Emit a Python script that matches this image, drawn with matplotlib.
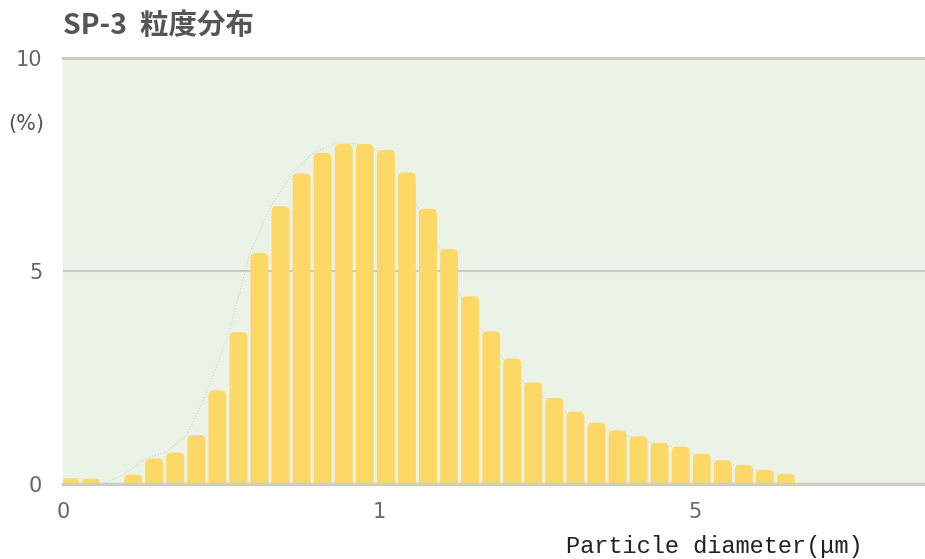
import numpy as np
import matplotlib
matplotlib.use("Agg")
import matplotlib.pyplot as plt
from matplotlib.patches import FancyBboxPatch

# percent per size bin
values = [0.13, 0.13, 0.0, 0.22, 0.60, 0.74, 1.15, 2.20, 3.57, 5.43, 6.53, 7.30,
          7.78, 7.99, 7.99, 7.85, 7.32, 6.47, 5.52, 4.41, 3.59, 2.95, 2.39, 2.02,
          1.70, 1.44, 1.26, 1.12, 0.97, 0.88, 0.71, 0.56, 0.45, 0.33, 0.24]
xtick_pos = [-0.33, 14.70, 29.66]
xtick_labels = ["0", "1", "5"]
ytick_pos = [0, 5, 10]
ytick_labels = ["0", "5", "10"]

title = "SP-3  粒度分布"
xlabel = "Particle diameter(μm)"
ylabel = "(%)"

bar_color = "#FDD866"
bg_color = "#EBF3E7"
grid_color = "#CACACA"

plt.rcParams['font.family'] = ['DejaVu Sans', 'Noto Sans CJK JP']

fig = plt.figure(figsize=(9.25, 5.59), dpi=100)
ax = fig.add_axes([63 / 925, 75 / 559, 862 / 925, 425.5 / 559])
ax.set_facecolor(bg_color)

idx = np.arange(len(values))

# faint dotted connector behind the bars
ax.plot(idx - 0.45, values, ls=':', color="#D2D6CF", lw=0.8, zorder=1)

bars = ax.bar(idx, values, width=0.85, color=bar_color, zorder=2)
for r in bars:
    r.set_visible(False)
    h = r.get_height()
    if h <= 0:
        continue
    p = FancyBboxPatch((r.get_x(), -0.3), r.get_width(), h + 0.3,
                       boxstyle="round,pad=0,rounding_size=0.24",
                       mutation_aspect=0.5, facecolor=bar_color,
                       edgecolor="none", zorder=2)
    ax.add_patch(p)

ax.axhline(5, color=grid_color, lw=1.5, zorder=1.5)
ax.axhline(10, color=grid_color, lw=2.2, zorder=3, clip_on=False)
ax.axhline(0, color="#CCCCCC", lw=2.5, zorder=3, clip_on=False)

ax.set_xlim(-0.08, 40.6)
ax.set_ylim(0, 10)
for s in ax.spines.values():
    s.set_visible(False)

ax.set_xticks(xtick_pos, xtick_labels)
ax.set_yticks(ytick_pos, ytick_labels)
ax.tick_params(axis='x', length=0, pad=13, labelsize=15, labelcolor="#666666")
ax.tick_params(axis='y', length=0, pad=15, labelsize=15, labelcolor="#666666")

fig.text(63 / 925, 1 - 26 / 559, title, fontsize=20.5, fontweight='bold',
         color="#555555", va='center', ha='left',
         family=['Noto Sans CJK JP', 'DejaVu Sans'])
fig.text(8 / 925, 1 - 124 / 559, ylabel, fontsize=15, color="#555555",
         va='center', ha='left')
fig.text(566 / 925, 1 - 546 / 559, xlabel, fontsize=17, color="#222222",
         va='center', ha='left', family=['Liberation Mono', 'DejaVu Sans Mono'])

fig.savefig("out.png", dpi=100)
